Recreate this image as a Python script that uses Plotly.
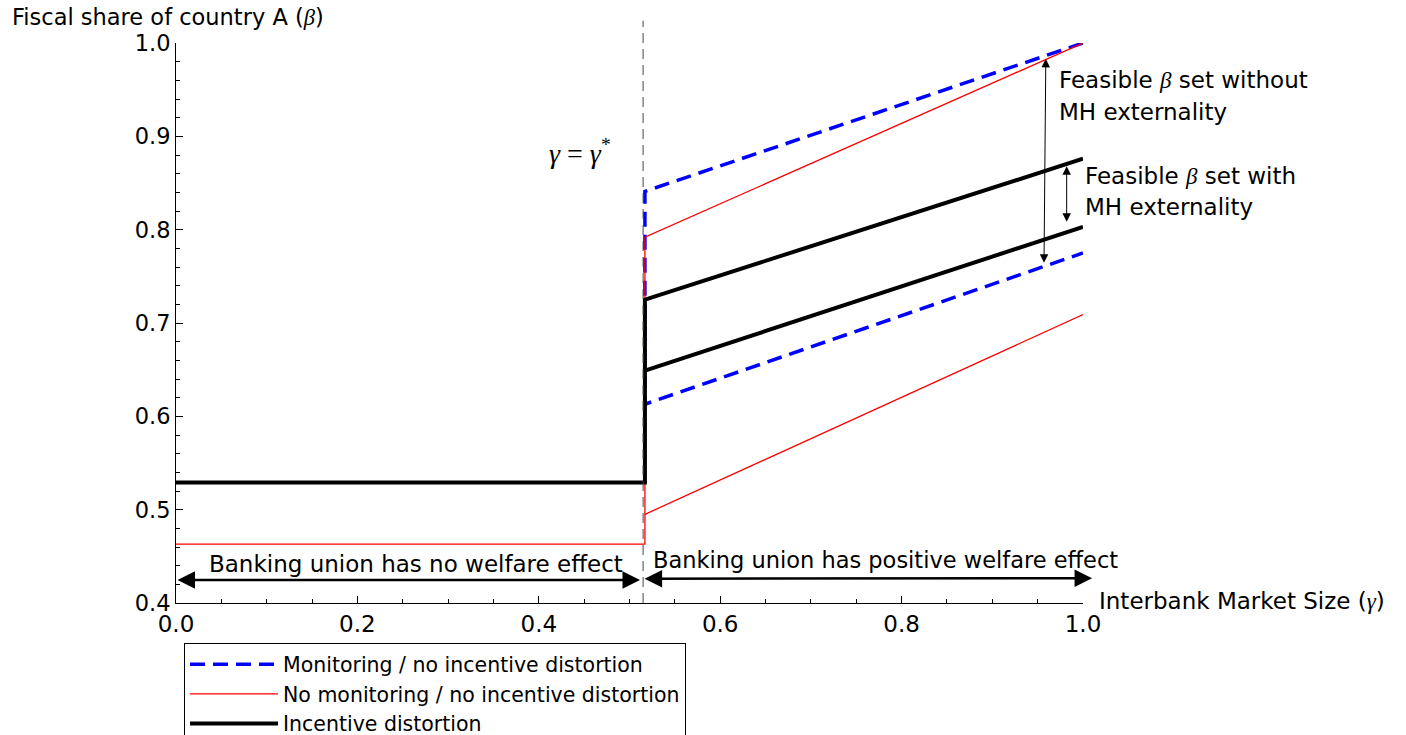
import numpy as np
import plotly.graph_objects as go

# Threshold interbank market size where the regime switches
gamma_star = 0.517

# Monitoring / no incentive distortion (upper and lower bounds of beta)
blue_x = [1.0, gamma_star, gamma_star, 1.0]
blue_y = [1.0, 0.841, 0.613, 0.775]

# No monitoring / no incentive distortion
red_upper_x = [0.0, gamma_star, gamma_star, 1.0]
red_upper_y = [0.463, 0.463, 0.792, 1.0]
red_lower_x = [gamma_star, 1.0]
red_lower_y = [0.495, 0.709]

# Incentive distortion
black_upper_x = [0.0, gamma_star, gamma_star, 1.0]
black_upper_y = [0.529, 0.529, 0.725, 0.876]
black_lower_x = [gamma_star, 1.0]
black_lower_y = [0.649, 0.803]

x_ticks = [0.0, 0.2, 0.4, 0.6, 0.8, 1.0]
x_tick_text = ["0.0", "0.2", "0.4", "0.6", "0.8", "1.0"]
y_ticks = [0.4, 0.5, 0.6, 0.7, 0.8, 0.9, 1.0]
y_tick_text = ["0.4", "0.5", "0.6", "0.7", "0.8", "0.9", "1.0"]

SANS = "DejaVu Sans, Verdana, sans-serif"
SERIF = "Liberation Serif, Times New Roman, serif"

fig = go.Figure()

fig.add_trace(go.Scatter(
    x=blue_x, y=blue_y, mode="lines", name="Monitoring / no incentive distortion",
    line=dict(color="#0000ff", width=3.5, dash="15px,8px"),
))
fig.add_trace(go.Scatter(
    x=red_upper_x, y=red_upper_y, mode="lines", name="No monitoring / no incentive distortion",
    line=dict(color="#ff0000", width=1.3), legendgroup="red",
))
fig.add_trace(go.Scatter(
    x=red_lower_x, y=red_lower_y, mode="lines", showlegend=False,
    line=dict(color="#ff0000", width=1.3), legendgroup="red",
))
fig.add_trace(go.Scatter(
    x=black_upper_x, y=black_upper_y, mode="lines", name="Incentive distortion",
    line=dict(color="#000000", width=4), legendgroup="black",
))
fig.add_trace(go.Scatter(
    x=black_lower_x, y=black_lower_y, mode="lines", showlegend=False,
    line=dict(color="#000000", width=4), legendgroup="black",
))

# Dashed marker of the threshold, reaching above the frame
fig.add_shape(type="line", xref="x", yref="paper", x0=gamma_star - 0.002, x1=gamma_star - 0.002,
              y0=0, y1=1.04, line=dict(color="#444444", width=1, dash="10px,6px"))

annotations = []

def text_note(x, y, text, size=23, family=SANS, xanchor="center", xref="x", yref="y"):
    annotations.append(dict(x=x, y=y, xref=xref, yref=yref, text=text, showarrow=False,
                            xanchor=xanchor, yanchor="middle", align="left",
                            font=dict(family=family, size=size, color="black")))

def arrow(x0, y0, x1, y1, width, size):
    annotations.append(dict(x=x1, y=y1, ax=x0, ay=y0, xref="x", yref="y", axref="x", ayref="y",
                            text="", showarrow=True, arrowhead=2, startarrowhead=2,
                            arrowside="end+start", arrowsize=size, startarrowsize=size,
                            arrowwidth=width, arrowcolor="black", standoff=0, startstandoff=0))

beta = "<span style='font-family:Liberation Serif'><i>β</i></span>"
gam = "<span style='font-family:Liberation Serif'><i>γ</i></span>"

# Axis titles
text_note(-0.183, 1.0464, "Fiscal share of country A (" + beta + ")", size=22.5,
          xanchor="left", xref="paper", yref="paper")
text_note(1.0154, 0.004, "Interbank Market Size (" + gam + ")",
          xanchor="left", xref="paper", yref="paper")

# Threshold label
text_note(0.445, 0.884, "<i>γ</i>&nbsp;=&nbsp;<i>γ</i><sup>*</sup>", size=28, family=SERIF)

# Feasible sets
text_note(0.971, 0.960, "Feasible " + beta + " set without", xanchor="left")
text_note(0.971, 0.926, "MH externality", xanchor="left")
text_note(1.0, 0.858, "Feasible " + beta + " set with", xanchor="left")
text_note(1.0, 0.824, "MH externality", xanchor="left")
arrow(0.957, 0.763, 0.959, 0.983, 1, 1.7)
arrow(0.982, 0.807, 0.982, 0.868, 1, 1.7)

# Welfare regions
text_note(0.2646, 0.442, "Banking union has no welfare effect")
text_note(0.7817, 0.446, "Banking union has positive welfare effect", size=22.5)
arrow(0.0, 0.4247, 0.5116, 0.4247, 2.5, 1.4)
arrow(0.515, 0.426, 1.01, 0.4265, 2.5, 1.4)

fig.update_layout(
    width=1406, height=735,
    margin=dict(l=176, r=323, t=43, b=132, autoexpand=False),
    paper_bgcolor="white", plot_bgcolor="white",
    font=dict(family=SANS, size=23, color="black"),
    showlegend=True,
    legend=dict(x=0.0088, y=-0.072, xanchor="left", yanchor="top",
                bordercolor="black", borderwidth=1, bgcolor="white",
                font=dict(family=SANS, size=20.5, color="black"),
                itemwidth=88, tracegroupgap=0, traceorder="normal"),
    annotations=annotations,
    xaxis=dict(range=[0, 1], tickvals=x_ticks, ticktext=x_tick_text,
               showgrid=False, zeroline=False, showline=True, linecolor="black", linewidth=1,
               ticks="inside", ticklen=7, tickcolor="black", tickwidth=1,
               tickfont=dict(family=SANS, size=23),
               minor=dict(tickvals=list(np.round(np.arange(0.05, 1.0, 0.05), 2)),
                          ticks="inside", ticklen=4, tickcolor="black", tickwidth=1)),
    yaxis=dict(range=[0.4, 1.0], tickvals=y_ticks, ticktext=y_tick_text,
               showgrid=False, zeroline=False, showline=True, linecolor="black", linewidth=1,
               ticks="inside", ticklen=7, tickcolor="black", tickwidth=1,
               tickfont=dict(family=SANS, size=22.5),
               minor=dict(tickvals=list(np.round(np.arange(0.42, 1.0, 0.02), 2)),
                          ticks="inside", ticklen=4, tickcolor="black", tickwidth=1)),
)

fig.write_html("out.html")
